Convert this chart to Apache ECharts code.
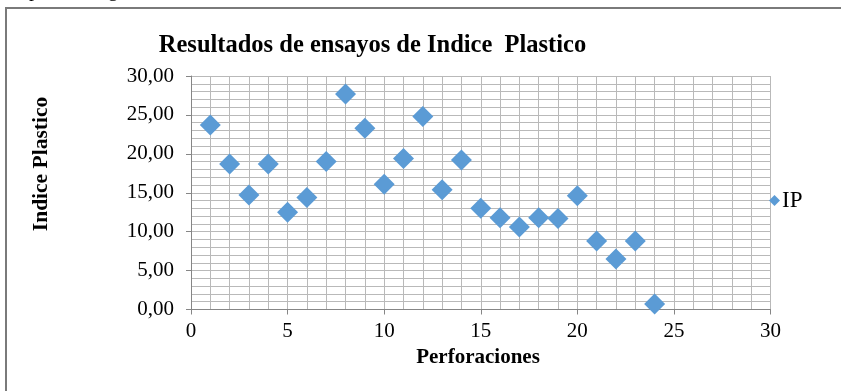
<!DOCTYPE html>
<html>
<head>
<meta charset="utf-8">
<script src="https://cdn.jsdelivr.net/npm/echarts@6/dist/echarts.min.js"></script>
<style>
  html, body { margin: 0; padding: 0; background: #ffffff; }
  #chart { width: 841px; height: 391px; }
</style>
</head>
<body>
<div id="chart"></div>
<script>
// Plasticity index per borehole
const perforaciones = [1, 2, 3, 4, 5, 6, 7, 8, 9, 10, 11, 12, 13, 14, 15, 16, 17, 18, 19, 20, 21, 22, 23, 24];
const indicePlastico = [23.7, 18.7, 14.7, 18.7, 12.5, 14.4, 19.0, 27.7, 23.3, 16.1, 19.4, 24.8,
                        15.4, 19.2, 13.0, 11.8, 10.6, 11.8, 11.7, 14.6, 8.8, 6.5, 8.8, 0.7];
const xTicks = [0, 5, 10, 15, 20, 25, 30];
const yTicks = [0, 5, 10, 15, 20, 25, 30];

const serif = 'Liberation Serif';
const gridColor = '#b9b9b9';
const axisColor = '#868686';
const blue = '#5b9bd5';

const chart = echarts.init(document.getElementById('chart'), null, { renderer: 'canvas' });

const points = perforaciones.map((p, i) => [p, indicePlastico[i]]);

chart.setOption({
  animation: false,
  backgroundColor: '#ffffff',
  grid: { left: 191, right: 70.5, top: 76, bottom: 81.5, containLabel: false },
  xAxis: {
    type: 'value',
    min: xTicks[0],
    max: xTicks[xTicks.length - 1],
    interval: 5,
    axisLine: { show: true, lineStyle: { color: axisColor, width: 1 } },
    axisTick: { show: true, inside: false, length: 5, lineStyle: { color: axisColor } },
    axisLabel: { margin: 11, color: '#000', fontFamily: serif, fontSize: 21 },
    splitLine: { show: true, lineStyle: { color: gridColor, width: 1 } },
    minorTick: { show: false, splitNumber: 5 },
    minorSplitLine: { show: true, lineStyle: { color: gridColor, width: 1 } }
  },
  yAxis: {
    type: 'value',
    min: yTicks[0],
    max: yTicks[yTicks.length - 1],
    interval: 5,
    axisLine: { show: true, lineStyle: { color: axisColor, width: 1 } },
    axisTick: { show: true, inside: false, length: 5, lineStyle: { color: axisColor } },
    axisLabel: {
      margin: 17, color: '#000', fontFamily: serif, fontSize: 21,
      formatter: v => v.toFixed(2).replace('.', ',')
    },
    splitLine: { show: true, lineStyle: { color: gridColor, width: 1 } },
    minorTick: { show: false, splitNumber: 5 },
    minorSplitLine: { show: true, lineStyle: { color: gridColor, width: 1 } }
  },
  legend: {
    orient: 'vertical',
    left: 764,
    top: 184,
    icon: 'diamond',
    itemWidth: 11,
    itemHeight: 11,
    itemGap: 4,
    textStyle: { color: '#000', fontFamily: serif, fontSize: 23, padding: [0, 0, 0, -3] },
    data: ['IP']
  },
  series: [{
    name: 'IP',
    type: 'scatter',
    symbol: 'diamond',
    symbolSize: 21,
    itemStyle: { color: blue, opacity: 1 },
    data: points
  }],
  graphic: [
    {
      type: 'rect',
      silent: true,
      shape: { x: 6, y: 8, width: 900, height: 500 },
      style: { fill: 'none', stroke: '#7a7a7a', lineWidth: 2 }
    },
    {
      type: 'text', silent: true,
      x: 29, y: -9,
      style: { text: 'p', font: '20px "Liberation Serif"', fill: '#000', verticalAlign: 'middle' }
    },
    {
      type: 'text', silent: true,
      x: 108, y: -9,
      style: { text: 'g', font: '20px "Liberation Serif"', fill: '#000', verticalAlign: 'middle' }
    },
    {
      type: 'text', silent: true,
      x: 372.5, y: 46,
      style: {
        text: 'Resultados de ensayos de Indice  Plastico',
        font: 'bold 24.5px "Liberation Serif"', fill: '#000',
        align: 'center', verticalAlign: 'middle'
      }
    },
    {
      type: 'text', silent: true,
      x: 41, y: 164, rotation: Math.PI / 2,
      style: {
        text: 'Indice Plastico',
        font: 'bold 21.5px "Liberation Serif"', fill: '#000',
        align: 'center', verticalAlign: 'middle'
      }
    },
    {
      type: 'text', silent: true,
      x: 478, y: 358,
      style: {
        text: 'Perforaciones',
        font: 'bold 21px "Liberation Serif"', fill: '#000',
        align: 'center', verticalAlign: 'middle'
      }
    }
  ]
});
</script>
</body>
</html>
